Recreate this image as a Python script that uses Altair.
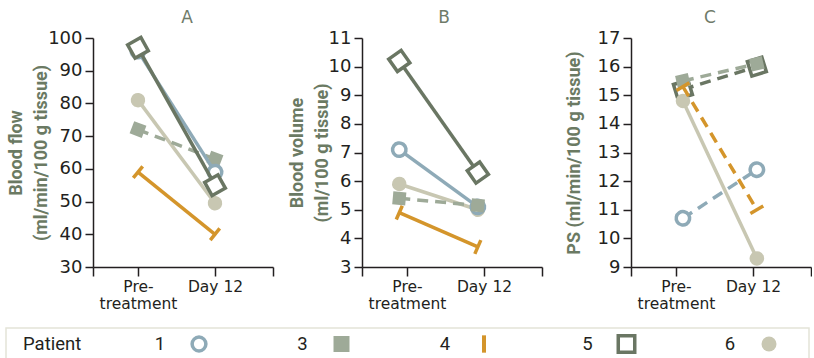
import math

import altair as alt
import pandas as pd

# Patients and the two measurement times
PATIENTS = [1, 3, 4, 5, 6]
STAGES = ["Pre-treatment", "Day 12"]

# Blood flow (ml/min/100 g tissue)
FLOW_PRE = [96, 72, 59, 97, 81]
FLOW_DAY12 = [59, 63, 40, 55, 49.5]
FLOW_DASHED = [False, True, False, False, False]

# Blood volume (ml/100 g tissue)
VOLUME_PRE = [7.1, 5.4, 4.9, 10.2, 5.9]
VOLUME_DAY12 = [5.1, 5.15, 3.7, 6.3, 5.0]
VOLUME_DASHED = [False, True, False, False, False]

# Permeability-surface product (ml/min/100 g tissue)
PS_PRE = [10.7, 15.5, 15.3, 15.2, 14.8]
PS_DAY12 = [12.4, 16.1, 11.0, 16.0, 9.3]
PS_DASHED = [True, True, True, True, False]

# Patient styling
COLORS = {1: "#8eaab7", 3: "#9eaa98", 4: "#d4952b", 5: "#6a7663", 6: "#c8c7b2"}
SHAPES = {1: "circle", 3: "square", 4: "M0,-1L0,1", 5: "square", 6: "circle"}
FILL = {1: "white", 3: None, 4: "none", 5: "white", 6: None}
SIZES = {1: 180, 3: 170, 4: 225, 5: 230, 6: 210}
LEGEND_SIZES = {1: 190, 3: 256, 4: 300, 5: 272, 6: 225}

TITLE_GREEN = "#6b7a63"
INK = "#231f20"
NARROW = "Roboto"
PLAIN = "DejaVu Sans"

W, H = 180, 229
X_MIN, X_MAX = -0.584, 1.753
PX_PER_X = W / (X_MAX - X_MIN)

PANELS = [
    dict(name="A", pre=FLOW_PRE, day12=FLOW_DAY12, dashed=FLOW_DASHED,
         domain=(30, 100), step=10, shift=(0.0, 0.0), order=[6, 4, 3, 1, 5],
         title=["Blood flow", "(ml/min/100 g tissue)"], title_x=-68, dx=4),
    dict(name="B", pre=VOLUME_PRE, day12=VOLUME_DAY12, dashed=VOLUME_DASHED,
         domain=(3, 11), step=1, shift=(-0.1, -0.08), order=[6, 4, 1, 5, 3],
         title=["Blood volume", "(ml/100 g tissue)"], title_x=-56, dx=-8),
    dict(name="C", pre=PS_PRE, day12=PS_DAY12, dashed=PS_DASHED,
         domain=(9, 17), step=1, shift=(0.09, 0.05), order=[5, 3, 6, 4, 1],
         title="PS (ml/min/100 g tissue)", title_x=-48, dx=-11),
]


def panel_frame(p):
    lo, hi = p["domain"]
    px_per_y = H / (hi - lo)
    rows = []
    for i, pid in enumerate(PATIENTS):
        y0, y1 = p["pre"][i], p["day12"][i]
        x0, x1 = 0 + p["shift"][0], 1 + p["shift"][1]
        ang = math.degrees(math.atan2(-(y1 - y0) * px_per_y, (x1 - x0) * PX_PER_X)) % 360
        for stage, x, y in ((STAGES[0], x0, y0), (STAGES[1], x1, y1)):
            rows.append(dict(patient=pid, stage=stage, x=x, value=y, angle=ang))
    return pd.DataFrame(rows)


def build_panel(p):
    df = panel_frame(p)
    lo, hi = p["domain"]
    x_enc = alt.X(
        "x:Q",
        scale=alt.Scale(domain=[X_MIN, X_MAX], nice=False, zero=False),
        axis=alt.Axis(
            values=[X_MIN, 0, 1, X_MAX],
            labelExpr="datum.value == 0 ? ['Pre-', 'treatment'] : (datum.value == 1 ? 'Day 12' : '')",
            title=None, grid=False, tickSize=9, tickWidth=1.5, tickColor=INK,
            domainColor=INK, domainWidth=1.5, labelFont=PLAIN, labelFontSize=15.5,
            labelColor=INK, labelPadding=3, labelLineHeight=17, labelOverlap=False,
            labelFlush=False,
        ),
    )
    y_enc = alt.Y(
        "value:Q",
        scale=alt.Scale(domain=[lo, hi], nice=False, zero=False),
        axis=alt.Axis(
            values=list(range(lo, hi + 1, p["step"])), grid=False,
            tickSize=8, tickWidth=1.5, tickColor=INK, domainColor=INK, domainWidth=1.5,
            labelFont=PLAIN, labelFontSize=18, labelColor=INK, labelPadding=3,
            title=p["title"], titleFont=NARROW, titleFontSize=18, titleFontWeight="bold",
            titleColor=TITLE_GREEN, titleLineHeight=25, titleAngle=270,
            titleAlign="center", titleBaseline="bottom", titleX=p["title_x"], titleY=H / 2,
        ),
    )
    layers = []
    for pid in p["order"]:
        i = PATIENTS.index(pid)
        base = alt.Chart(df).transform_filter(alt.datum.patient == pid)
        line_kw = dict(color=COLORS[pid], strokeWidth=3.5, strokeCap="butt")
        if p["dashed"][i]:
            line_kw["strokeDash"] = [11, 7]
        layers.append(base.mark_line(**line_kw).encode(x=x_enc, y=y_enc))
        pt_kw = dict(shape=SHAPES[pid], size=SIZES[pid], opacity=1, strokeWidth=3.5)
        if FILL[pid] is None:
            pt_kw.update(filled=True, color=COLORS[pid])
        else:
            pt_kw.update(filled=False, stroke=COLORS[pid], fill=FILL[pid])
        layers.append(
            base.mark_point(**pt_kw).encode(
                x=x_enc, y=y_enc, angle=alt.Angle("angle:Q", scale=None)
            )
        )
    return alt.layer(*layers).properties(
        width=W, height=H,
        title=alt.TitleParams(p["name"], font=PLAIN, fontSize=17, fontWeight="normal",
                              color="#6f7b69", dx=p["dx"], offset=2),
    )


panels = alt.hconcat(*[build_panel(p) for p in PANELS], spacing=89, bounds="flush")

# Legend strip below the panels; its frame reaches back under the first y-axis title
LEGEND_W, LEGEND_H, LEGEND_LEFT = 716, 31, -87
legend_df = pd.DataFrame({"patient": [str(p) for p in PATIENTS]})
legend_x = alt.X(
    "patient:N",
    scale=alt.Scale(domain=[str(p) for p in PATIENTS], range=[106, 676], padding=0),
    axis=None,
)
legend_layers = [
    alt.Chart(pd.DataFrame({"box": [0]})).mark_rect(
        fill="white", stroke="#e4e4d8", strokeWidth=1.5
    ).encode(x=alt.value(LEGEND_LEFT), x2=alt.value(LEGEND_W),
             y=alt.value(0), y2=alt.value(LEGEND_H + 4)),
    alt.Chart(pd.DataFrame({"t": ["Patient"]})).mark_text(
        align="left", baseline="alphabetic", font=NARROW, fontSize=18.5, color=INK
    ).encode(x=alt.value(LEGEND_LEFT + 17), y=alt.value(22), text="t:N"),
    alt.Chart(legend_df).mark_text(
        align="center", baseline="alphabetic", font=NARROW, fontSize=18.5, color=INK, dx=-39
    ).encode(x=legend_x, y=alt.value(22), text="patient:N"),
]
for pid in PATIENTS:
    kw = dict(shape=SHAPES[pid], size=LEGEND_SIZES[pid], opacity=1,
              strokeWidth=4 if pid == 4 else 3.5)
    if FILL[pid] is None:
        kw.update(filled=True, color=COLORS[pid])
    else:
        kw.update(filled=False, stroke=COLORS[pid], fill=FILL[pid])
    legend_layers.append(
        alt.Chart(legend_df).transform_filter(alt.datum.patient == str(pid))
        .mark_point(**kw).encode(x=legend_x, y=alt.value(16))
    )
legend = alt.layer(*legend_layers).properties(width=LEGEND_W, height=LEGEND_H)

chart = alt.vconcat(panels, legend, spacing=15).properties(
    padding={"left": 5, "top": 9, "right": 0, "bottom": 0},
    background="white",
).configure_view(stroke=None)

chart.save("out.html", embed_options={"renderer": "svg", "actions": False})
